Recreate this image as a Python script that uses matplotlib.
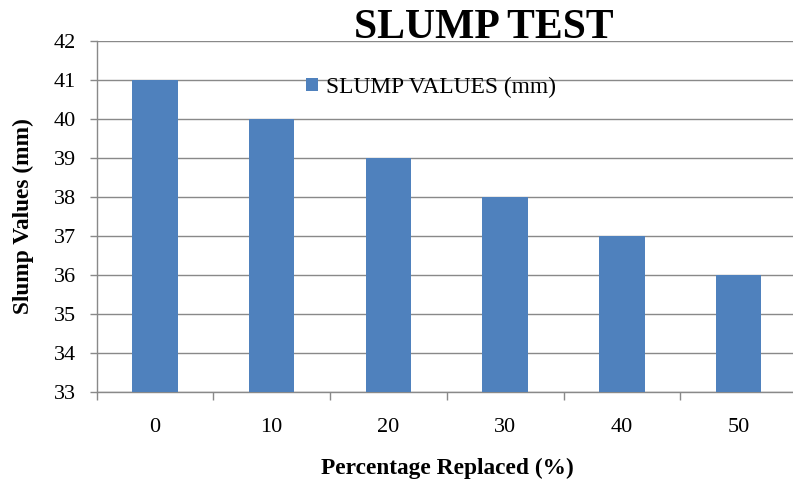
import matplotlib.pyplot as plt
from matplotlib.ticker import FixedLocator, MultipleLocator

# slump test results
replaced = ["0", "10", "20", "30", "40", "50"]
slump_mm = [41, 40, 39, 38, 37, 36]

serif = "Liberation Serif"
grey = "#898989"

fig = plt.figure(figsize=(7.93, 4.86), dpi=100)
ax = fig.add_axes([0.1217, 0.1944, 0.8834, 0.7212])

pos = list(range(len(replaced)))
ax.bar(pos, slump_mm, width=0.39, color="#4F81BD", label="SLUMP VALUES (mm)", zorder=3)

ax.set_xlim(-0.5, len(replaced) - 0.5)
ax.set_ylim(33, 42)
ax.yaxis.set_major_locator(MultipleLocator(1))
ax.grid(axis="y", color=grey, linewidth=1.0, zorder=0)

ax.set_xticks(pos)
ax.set_xticklabels(replaced)
ax.xaxis.set_minor_locator(FixedLocator([p - 0.5 for p in pos] + [len(pos) - 0.5]))
ax.tick_params(axis="x", which="major", length=0, pad=19)
ax.tick_params(axis="x", which="minor", length=6, width=1, color=grey, direction="out")
ax.tick_params(axis="y", length=5, width=1, color=grey, direction="out", pad=10)
for lbl in ax.get_xticklabels() + ax.get_yticklabels():
    lbl.set_fontfamily(serif)
    lbl.set_fontsize(16)

for side in ("top", "right"):
    ax.spines[side].set_visible(False)
for side in ("left", "bottom"):
    ax.spines[side].set_color(grey)
    ax.spines[side].set_linewidth(1.0)

fig.text(484 / 793, 1 - 38 / 486, "SLUMP TEST", family=serif, fontsize=30,
         fontweight="bold", ha="center", va="baseline")
fig.text(23 / 793, 1 - 216 / 486, "Slump Values (mm)", family=serif, fontsize=16.8,
         fontweight="bold", rotation=90, ha="center", va="center")
fig.text(447 / 793, 1 - 468 / 486, "Percentage Replaced (%)", family=serif, fontsize=16.8,
         fontweight="bold", ha="center", va="center")

fig.legend(loc="center left", bbox_to_anchor=(306 / 793, 1 - 87 / 486), frameon=False,
           prop={"family": serif, "size": 16.8}, handlelength=0.5, handleheight=0.5,
           handletextpad=0.35, borderpad=0, borderaxespad=0)

fig.savefig("out.png", dpi=100)
